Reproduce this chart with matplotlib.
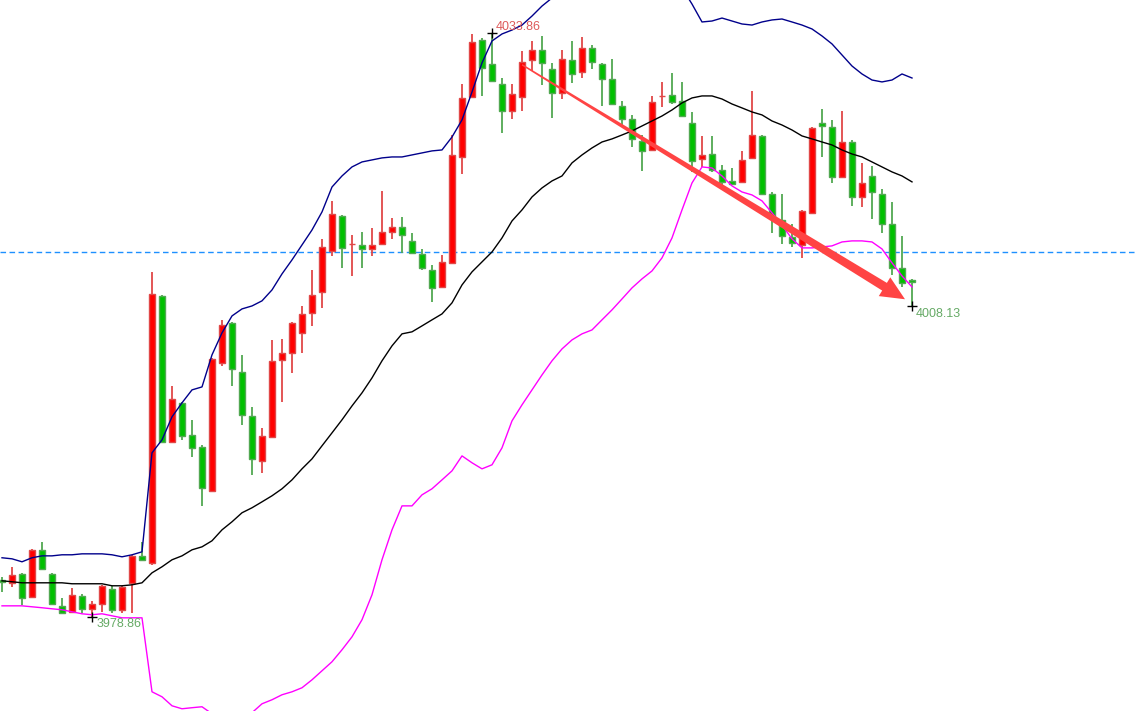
import numpy as np
import matplotlib.pyplot as plt
from matplotlib.patches import Polygon

plt.rcParams['font.family'] = ['Liberation Sans', 'DejaVu Sans']

# OHLC (one candle per bar)
opens = [3982.36, 3982.08, 3982.93, 3980.76, 3985.19, 3982.93, 3979.91, 3979.35, 3980.86, 3979.63,
         3980.10, 3981.52, 3979.54, 3982.08, 3984.62, 3983.97, 4009.12, 3995.36, 3999.04, 3996.02,
         3994.89, 3990.75, 4002.81, 4006.57, 4001.96, 3997.81, 3993.57, 3995.83, 4003.09, 4003.75,
         4005.63, 4007.52, 4009.49, 4013.36, 4016.65, 4013.97, 4013.92, 4013.54, 4014.02, 4015.15,
         4015.62, 4014.30, 4013.07, 4011.57, 4009.96, 4012.23, 4022.21, 4027.86, 4033.23, 4030.97,
         4029.09, 4026.54, 4027.86, 4031.35, 4032.29, 4030.50, 4028.24, 4031.35, 4030.22, 4032.48,
         4030.97, 4029.56, 4027.01, 4025.79, 4023.72, 4022.87, 4027.91, 4028.05, 4027.49, 4025.41,
         4022.02, 4022.49, 4020.99, 4019.95, 4019.86, 4022.12, 4024.19, 4018.73, 4016.28, 4014.67,
         4013.92, 4016.94, 4025.41, 4025.04, 4020.33, 4023.62, 4018.44, 4020.42, 4018.73, 4015.90,
         4011.75, 4010.62]
highs = [3982.65, 3983.59, 3983.02, 3985.28, 3985.94, 3983.02, 3980.67, 3981.61, 3981.05, 3980.39,
         3981.89, 3981.80, 3981.80, 3984.72, 3985.94, 4011.38, 4009.21, 4000.64, 3999.13, 3997.44,
         3995.08, 4003.28, 4006.86, 4006.67, 4003.56, 3998.66, 3996.68, 4004.97, 4005.07, 4006.67,
         4008.17, 4011.57, 4014.49, 4018.07, 4016.75, 4014.86, 4015.15, 4015.52, 4019.01, 4016.46,
         4016.56, 4015.05, 4013.54, 4012.04, 4012.98, 4024.28, 4029.09, 4033.80, 4033.42, 4033.86,
         4029.65, 4029.09, 4032.20, 4033.14, 4033.61, 4031.07, 4032.29, 4033.14, 4033.51, 4032.76,
         4031.07, 4031.44, 4027.49, 4026.17, 4024.28, 4027.96, 4029.28, 4030.12, 4029.28, 4026.45,
         4024.19, 4024.19, 4021.46, 4021.17, 4022.78, 4028.43, 4024.28, 4018.91, 4018.73, 4015.90,
         4017.22, 4025.04, 4026.73, 4025.70, 4026.54, 4023.81, 4021.65, 4021.36, 4019.20, 4017.97,
         4014.77, 4010.72]
lows = [3981.23, 3981.70, 3980.01, 3980.67, 3983.31, 3980.01, 3979.16, 3979.26, 3979.26, 3978.86,
        3979.35, 3979.26, 3979.26, 3979.26, 3984.15, 3983.78, 3995.27, 3995.27, 3995.55, 3993.95,
        3989.33, 3990.65, 4002.52, 4000.64, 3996.96, 3992.25, 3992.44, 3995.74, 3999.13, 4001.86,
        4003.75, 4006.29, 4007.99, 4012.88, 4011.75, 4011.00, 4011.75, 4012.88, 4013.92, 4014.49,
        4013.17, 4013.07, 4011.57, 4008.55, 4009.87, 4012.13, 4020.61, 4027.77, 4027.96, 4029.28,
        4024.47, 4025.79, 4026.54, 4030.31, 4028.99, 4025.88, 4027.67, 4029.18, 4029.65, 4030.50,
        4027.01, 4027.11, 4025.04, 4023.15, 4020.89, 4022.78, 4026.92, 4027.20, 4025.98, 4020.80,
        4021.27, 4020.80, 4019.29, 4019.57, 4019.76, 4022.02, 4018.63, 4015.05, 4014.02, 4013.73,
        4012.70, 4016.84, 4022.21, 4019.76, 4020.23, 4017.59, 4017.50, 4016.37, 4015.05, 4011.09,
        4009.96, 4008.13]
closes = [3982.18, 3982.83, 3980.67, 3985.19, 3983.40, 3980.10, 3979.26, 3980.95, 3979.63, 3980.10,
          3981.80, 3979.54, 3981.70, 3984.62, 3984.25, 4009.31, 3995.36, 3999.41, 3995.93, 3994.80,
          3991.03, 4003.18, 4006.38, 4002.24, 3997.91, 3993.76, 3995.93, 4002.99, 4003.75, 4006.57,
          4007.42, 4009.21, 4013.73, 4016.84, 4013.64, 4014.02, 4013.54, 4013.92, 4015.15, 4015.62,
          4014.86, 4013.17, 4011.75, 4009.87, 4012.32, 4022.40, 4027.77, 4033.04, 4030.59, 4029.37,
          4026.54, 4028.15, 4031.16, 4032.29, 4031.07, 4028.24, 4031.44, 4030.03, 4032.48, 4031.16,
          4029.56, 4027.20, 4025.79, 4023.91, 4022.78, 4027.39, 4027.96, 4027.39, 4026.07, 4021.83,
          4022.40, 4020.99, 4019.86, 4019.67, 4021.93, 4024.28, 4018.73, 4016.46, 4014.77, 4014.11,
          4017.12, 4024.94, 4025.13, 4020.33, 4023.62, 4018.44, 4019.76, 4018.91, 4015.90, 4011.75,
          4010.34, 4010.44]

# Bollinger bands
upper = [3984.44, 3984.34, 3984.06, 3984.44, 3984.62, 3984.62, 3984.72, 3984.72, 3984.81, 3984.81,
         3984.81, 3984.72, 3984.53, 3984.72, 3985.00, 3994.33, 3995.55, 3997.72, 3999.04, 4000.26,
         4000.54, 4003.56, 4005.63, 4007.23, 4007.89, 4008.17, 4008.65, 4009.68, 4011.19, 4012.51,
         4013.92, 4015.33, 4017.03, 4019.38, 4020.42, 4021.27, 4021.74, 4021.93, 4022.12, 4022.21,
         4022.21, 4022.40, 4022.59, 4022.78, 4022.87, 4024.09, 4025.70, 4028.33, 4031.07, 4033.14,
         4033.80, 4034.17, 4034.64, 4035.49, 4036.43, 4037.19, 4037.75, 4038.22, 4038.70, 4039.07,
         4039.36, 4039.54, 4039.64, 4039.64, 4039.64, 4039.54, 4039.36, 4038.98, 4038.13, 4036.62,
         4034.93, 4035.02, 4035.30, 4035.02, 4034.74, 4034.64, 4034.93, 4035.12, 4035.21, 4034.93,
         4034.64, 4034.27, 4033.61, 4032.86, 4031.82, 4030.78, 4030.03, 4029.46, 4029.28, 4029.46,
         4030.03, 4029.65]
middle = [3982.27, 3982.18, 3982.08, 3982.08, 3982.08, 3982.08, 3982.08, 3981.99, 3981.99, 3981.99,
          3981.99, 3981.80, 3981.80, 3981.89, 3982.08, 3983.02, 3983.59, 3984.25, 3984.62, 3985.19,
          3985.47, 3986.04, 3987.07, 3987.83, 3988.68, 3989.15, 3989.71, 3990.28, 3990.94, 3991.78,
          3992.82, 3993.76, 3994.99, 3996.21, 3997.44, 3998.75, 3999.98, 4001.39, 4003.00, 4004.41,
          4005.54, 4005.73, 4006.29, 4006.86, 4007.42, 4008.46, 4010.15, 4011.38, 4012.32, 4013.26,
          4014.58, 4016.18, 4017.22, 4018.44, 4019.29, 4019.95, 4020.42, 4021.65, 4022.40, 4023.06,
          4023.62, 4023.91, 4024.28, 4024.66, 4025.13, 4025.60, 4026.07, 4026.64, 4027.30, 4027.77,
          4027.96, 4027.96, 4027.67, 4027.20, 4026.83, 4026.45, 4026.17, 4025.60, 4025.22, 4024.75,
          4024.19, 4023.91, 4023.62, 4023.34, 4022.87, 4022.49, 4022.21, 4021.74, 4021.27, 4020.80,
          4020.42, 4019.86]
lower = [3979.91, 3979.91, 3979.91, 3979.82, 3979.73, 3979.63, 3979.54, 3979.35, 3979.16, 3979.07,
         3979.16, 3978.97, 3978.78, 3978.78, 3978.78, 3971.81, 3971.34, 3970.49, 3970.21, 3970.31,
         3970.40, 3969.74, 3969.18, 3968.80, 3968.99, 3969.84, 3970.68, 3971.06, 3971.53, 3971.81,
         3972.19, 3972.94, 3973.79, 3974.64, 3975.77, 3976.99, 3978.60, 3980.95, 3984.25, 3987.07,
         3989.33, 3989.33, 3990.37, 3990.94, 3991.78, 3992.63, 3994.04, 3993.39, 3992.82, 3993.20,
         3994.80, 3997.34, 3998.85, 4000.26, 4001.67, 4003.00, 4004.12, 4004.97, 4005.54, 4005.91,
         4006.86, 4007.80, 4008.83, 4009.87, 4010.72, 4011.47, 4012.70, 4014.58, 4017.22, 4019.76,
         4021.27, 4021.17, 4020.42, 4019.48, 4018.91, 4018.63, 4018.07, 4016.94, 4015.80, 4014.49,
         4013.64, 4013.64, 4013.73, 4013.83, 4014.20, 4014.30, 4014.30, 4014.20, 4013.54, 4012.23,
         4011.00, 4009.96]

ref_level = 4013.3             # dashed horizontal line
arrow_start = (52, 4030.9)     # trend arrow (bar index, price)
arrow_end = (90.3, 4008.8)

UP_FILL, UP_EDGE = '#FF0000', '#E04848'
DN_FILL, DN_EDGE = '#00C000', '#52A852'

fig = plt.figure(figsize=(11.36, 7.11), dpi=100)
ax = fig.add_axes([0, 0, 1, 1])
ax.set_xlim(-0.2, 113.4)
ax.set_ylim(3970.0, 4037.0)
ax.axis('off')

x = np.arange(len(opens))
o, h, l, c = map(np.array, (opens, highs, lows, closes))
up = c >= o

# candles
for xi, oi, hi, li, ci, u in zip(x, o, h, l, c, up):
    edge = UP_EDGE if u else DN_EDGE
    fill = UP_FILL if u else DN_FILL
    ax.vlines(xi, li, hi, color=edge, lw=1.3, zorder=2)
    ax.bar(xi, abs(ci - oi), bottom=min(oi, ci), width=0.68,
           color=fill, edgecolor=edge, linewidth=1, zorder=3)

# bollinger bands
ax.plot(x, upper, color='#00008B', lw=1, zorder=4)
ax.plot(x, middle, color='black', lw=1, zorder=4)
ax.plot(x, lower, color='#FF00FF', lw=1, zorder=4)

ax.axhline(ref_level, color='#1E90FF', lw=1, linestyle=(0, (4, 2.5)), zorder=1)

# tapered trend arrow, built in pixel space
tr = ax.transData
p0 = tr.transform(arrow_start)
p1 = tr.transform(arrow_end)
d = (p1 - p0) / np.linalg.norm(p1 - p0)
n = np.array([-d[1], d[0]])
head_len, head_w, w0, w1 = 24, 22, 1.5, 9
pb = p1 - d * head_len
pts = [p0 + n * w0 / 2, pb + n * w1 / 2, pb + n * head_w / 2, p1,
       pb - n * head_w / 2, pb - n * w1 / 2, p0 - n * w0 / 2]
ax.add_patch(Polygon(tr.inverted().transform(pts), closed=True,
                     facecolor='#FF4444', edgecolor='none', zorder=6))

# high / low markers
i_hi = int(np.argmax(h))
i_lo = int(np.argmin(l))
i_last = len(l) - 1
for xi, yi in [(i_hi, h[i_hi]), (i_lo, l[i_lo]), (i_last, l[i_last])]:
    ax.plot(xi, yi, marker='+', color='black', ms=7, mew=1, zorder=7)

ax.annotate(f'{h[i_hi]:.2f}', (i_hi, h[i_hi]), xytext=(3, 0), textcoords='offset points',
            ha='left', va='bottom', fontsize=9, color='#DD5A5A', zorder=8)
ax.annotate(f'{l[i_lo]:.2f}', (i_lo, l[i_lo]), xytext=(3, -1), textcoords='offset points',
            ha='left', va='top', fontsize=9, color='#66AA66', zorder=8)
ax.annotate(f'{l[i_last]:.2f}', (i_last, l[i_last]), xytext=(3, -1), textcoords='offset points',
            ha='left', va='top', fontsize=9, color='#66AA66', zorder=8)

fig.savefig('out.png', dpi=100, facecolor='white')
